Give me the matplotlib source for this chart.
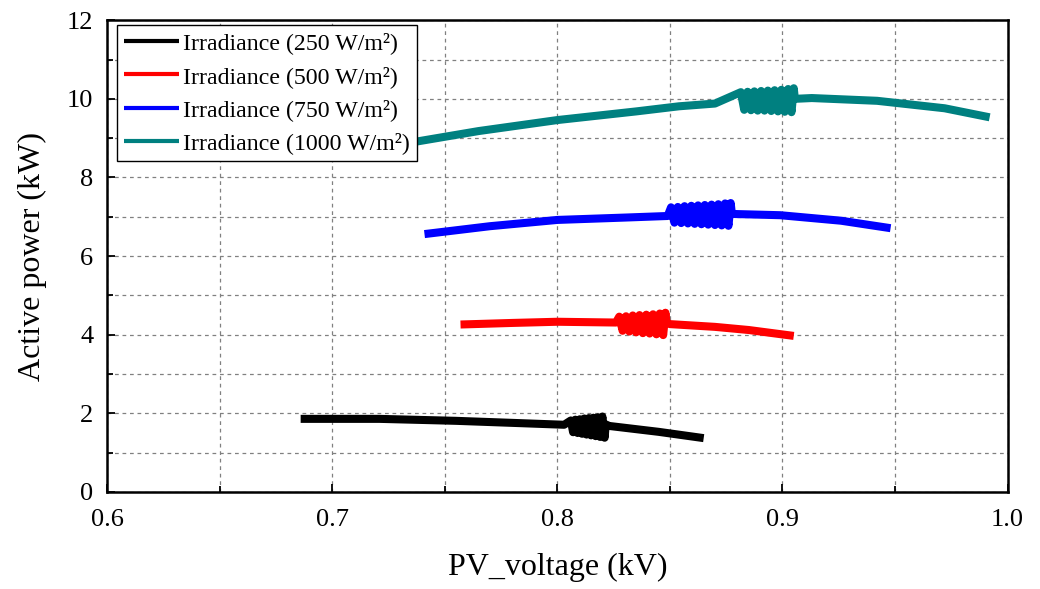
import matplotlib
matplotlib.use('Agg')
import matplotlib.pyplot as plt
from matplotlib.ticker import MultipleLocator, FormatStrFormatter

plt.rcParams['font.family'] = ['Liberation Serif', 'DejaVu Serif']
plt.rcParams['path.simplify'] = False  # keep the noisy zigzags

# values (kV, kW); the noisy patches are typed in as top/bottom zigzags
v250 = [0.686, 0.721, 0.755, 0.784, 0.803,
        0.806, 0.807, 0.808, 0.809, 0.810, 0.811, 0.812, 0.813, 0.814, 0.815, 0.816, 0.817, 0.818, 0.819, 0.820, 0.821,
        0.8215, 0.823, 0.845, 0.865]
p250 = [1.86, 1.86, 1.81, 1.75, 1.71,
        1.82, 1.52, 1.84, 1.50, 1.85, 1.48, 1.87, 1.46, 1.88, 1.44, 1.89, 1.42, 1.90, 1.40, 1.92, 1.38,
        1.72, 1.68, 1.53, 1.37]

v500 = [0.757, 0.780, 0.800, 0.826,
        0.8275, 0.829, 0.8305, 0.832, 0.8335, 0.835, 0.8365, 0.838, 0.8395, 0.841, 0.8425, 0.844, 0.8455, 0.847, 0.848,
        0.8485, 0.850, 0.870, 0.885, 0.905]
p500 = [4.26, 4.30, 4.33, 4.31,
        4.46, 4.10, 4.47, 4.08, 4.49, 4.06, 4.50, 4.04, 4.51, 4.03, 4.52, 4.01, 4.54, 3.99, 4.56,
        4.30, 4.27, 4.20, 4.12, 3.97]

v750 = [0.741, 0.770, 0.800, 0.830, 0.849,
        0.8505, 0.852, 0.8535, 0.855, 0.8565, 0.858, 0.8595, 0.861, 0.8625, 0.864, 0.8655, 0.867, 0.8685, 0.870,
        0.8715, 0.873, 0.8745, 0.876, 0.877,
        0.8775, 0.879, 0.899, 0.926, 0.948]
p750 = [6.56, 6.76, 6.92, 6.98, 7.02,
        7.24, 6.85, 7.25, 6.84, 7.27, 6.83, 7.28, 6.82, 7.29, 6.81, 7.30, 6.80, 7.31, 6.79,
        7.32, 6.78, 7.34, 6.77, 7.35,
        7.08, 7.07, 7.04, 6.90, 6.71]

v1000 = [0.725, 0.733, 0.765, 0.800, 0.835, 0.854, 0.870,
         0.8815, 0.883, 0.8845, 0.886, 0.8875, 0.889, 0.8905, 0.892, 0.8935, 0.895, 0.8965, 0.898, 0.8995, 0.901,
         0.9025, 0.904, 0.905,
         0.9055, 0.913, 0.942, 0.972, 0.992]
p1000 = [8.72, 8.87, 9.18, 9.46, 9.68, 9.81, 9.88,
         10.17, 9.72, 10.18, 9.71, 10.19, 9.70, 10.20, 9.70, 10.21, 9.69, 10.22, 9.68, 10.23, 9.67,
         10.25, 9.66, 10.27,
         10.00, 10.02, 9.95, 9.76, 9.53]

labels = ['Irradiance (250 W/m\u00b2)', 'Irradiance (500 W/m\u00b2)',
          'Irradiance (750 W/m\u00b2)', 'Irradiance (1000 W/m\u00b2)']
colors = ['black', '#ff0000', '#0000ff', '#008080']

fig = plt.figure(figsize=(10.4, 5.89), dpi=100)
ax = fig.add_axes([0.1029, 0.1647, 0.866, 0.801])

for v, p, lab, c in zip([v250, v500, v750, v1000], [p250, p500, p750, p1000], labels, colors):
    ax.plot(v, p, color=c, lw=5.8, label=lab, solid_capstyle='butt', solid_joinstyle='round')

ax.set_xlim(0.6, 1.0)
ax.set_ylim(0, 12)
ax.xaxis.set_major_locator(MultipleLocator(0.1))
ax.xaxis.set_minor_locator(MultipleLocator(0.05))
ax.yaxis.set_major_locator(MultipleLocator(2))
ax.yaxis.set_minor_locator(MultipleLocator(1))
ax.xaxis.set_major_formatter(FormatStrFormatter('%.1f'))
ax.grid(True, which='both', linestyle=(0, (3, 3)), color='#808080', lw=0.9)
ax.set_axisbelow(True)

ax.tick_params(which='both', direction='in', labelsize=19, width=1.3)
ax.tick_params(which='major', length=6)
ax.tick_params(which='minor', length=4)
ax.tick_params(axis='x', pad=12)
ax.tick_params(axis='y', pad=10)
for s in ax.spines.values():
    s.set_linewidth(1.8)

ax.set_xlabel('PV_voltage (kV)', fontsize=23, labelpad=16)
ax.set_ylabel('Active power (kW)', fontsize=23, labelpad=14)

leg = ax.legend(loc='upper left', bbox_to_anchor=(0.011, 0.989), fontsize=17.2,
                frameon=True, fancybox=False, edgecolor='black', framealpha=1,
                handlelength=2.3, handletextpad=0.15, borderpad=0.3, labelspacing=0.47,
                borderaxespad=0)
leg.get_frame().set_linewidth(1.0)
for h in leg.get_lines():
    h.set_linewidth(3)

fig.savefig('out.png', dpi=100)
